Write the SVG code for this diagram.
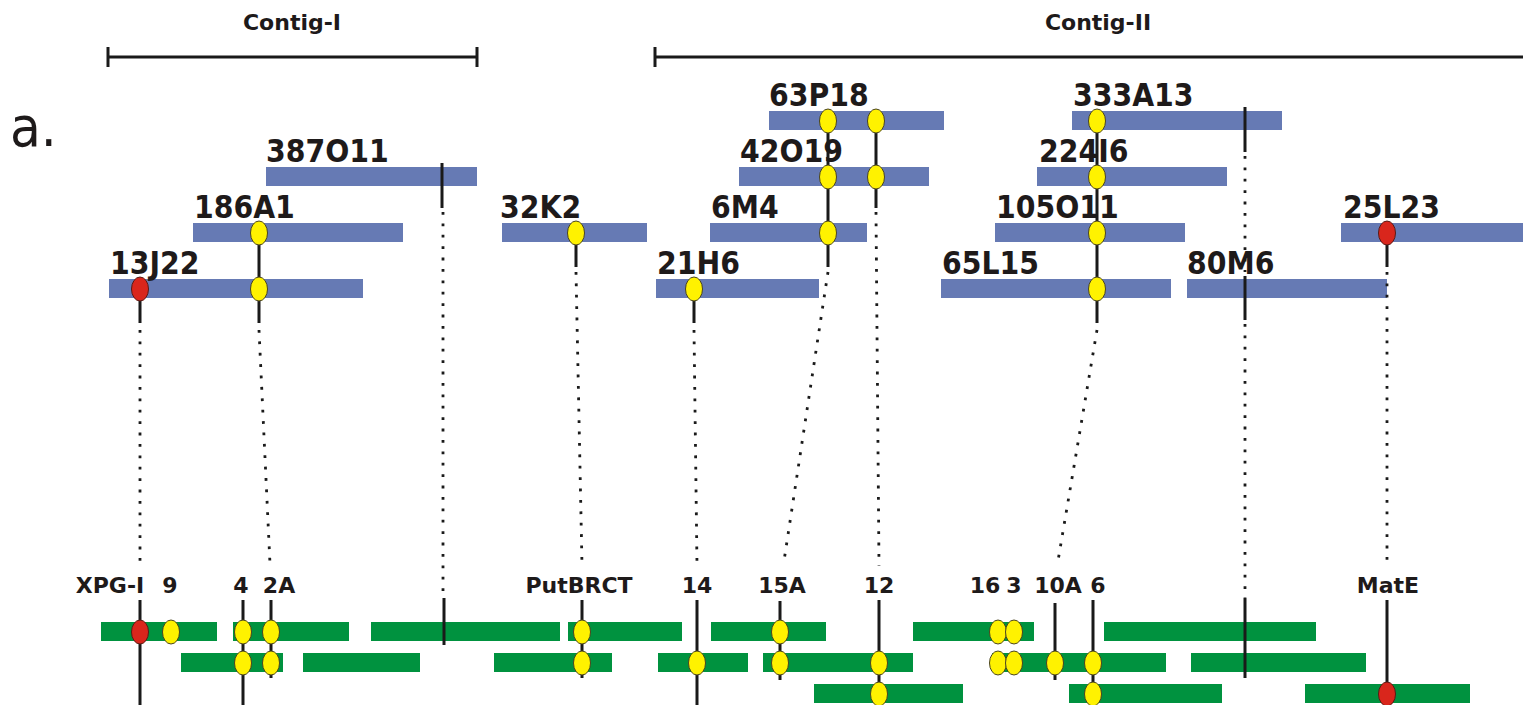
<svg xmlns="http://www.w3.org/2000/svg" width="1523" height="705" viewBox="0 0 1523 705">
<style>
.blue{fill:#667ab4}
.green{fill:#00923f}
.clone{font-family:"DejaVu Sans Condensed","DejaVu Sans",sans-serif;font-stretch:condensed;font-weight:bold;font-size:31.5px;fill:#1e1a1a}
.gene{font-family:"DejaVu Sans",sans-serif;font-weight:bold;font-size:22px;fill:#1e1a1a;text-anchor:middle}
.contig{font-family:"DejaVu Sans",sans-serif;font-weight:bold;font-size:22px;fill:#1e1a1a;text-anchor:middle}
.solid{stroke:#1a1a1a;stroke-width:3;fill:none}
.dot{stroke:#1a1a1a;stroke-width:2.8;stroke-dasharray:2.8 8.6;fill:none}
.y{fill:#fff200;stroke:#4a4420;stroke-width:1}
.r{fill:#d9261c;stroke:#5a1a14;stroke-width:1}
</style>
<rect width="1523" height="705" fill="#ffffff"/>

<g id="contig-I">
  <text class="contig" x="292" y="30">Contig-I</text>
  <path class="solid" d="M108,57H477M108,47V67M477,47V67"/>
</g>
<g id="contig-II">
  <text class="contig" x="1098" y="30">Contig-II</text>
  <path class="solid" d="M655,57H1523M655,47V67"/>
</g>
<g id="panel-label">
  <text x="10" y="146" font-family="DejaVu Sans Condensed, DejaVu Sans, sans-serif" font-stretch="condensed" font-size="56" fill="#1e1a1a">a.</text>
</g>

<g id="bac-clones">
  <g id="c63P18"><rect class="blue" x="769" y="111" width="175" height="19"/><text class="clone" x="769" y="106">63P18</text></g>
  <g id="c333A13"><rect class="blue" x="1072" y="111" width="210" height="19"/><text class="clone" x="1073" y="106">333A13</text></g>
  <g id="c387O11"><rect class="blue" x="266" y="167" width="211" height="19"/><text class="clone" x="266" y="162">387O11</text></g>
  <g id="c42O19"><rect class="blue" x="739" y="167" width="190" height="19"/><text class="clone" x="740" y="162">42O19</text></g>
  <g id="c224I6"><rect class="blue" x="1037" y="167" width="190" height="19"/><text class="clone" x="1039" y="162">224I6</text></g>
  <g id="c186A1"><rect class="blue" x="193" y="223" width="210" height="19"/><text class="clone" x="194" y="218">186A1</text></g>
  <g id="c32K2"><rect class="blue" x="502" y="223" width="145" height="19"/><text class="clone" x="500" y="218">32K2</text></g>
  <g id="c6M4"><rect class="blue" x="710" y="223" width="157" height="19"/><text class="clone" x="711" y="218">6M4</text></g>
  <g id="c105O11"><rect class="blue" x="995" y="223" width="190" height="19"/><text class="clone" x="996" y="218">105O11</text></g>
  <g id="c25L23"><rect class="blue" x="1341" y="223" width="182" height="19"/><text class="clone" x="1343" y="218">25L23</text></g>
  <g id="c13J22"><rect class="blue" x="109" y="279" width="254" height="19"/><text class="clone" x="110" y="274">13J22</text></g>
  <g id="c21H6"><rect class="blue" x="656" y="279" width="163" height="19"/><text class="clone" x="657" y="274">21H6</text></g>
  <g id="c65L15"><rect class="blue" x="941" y="279" width="230" height="19"/><text class="clone" x="942" y="274">65L15</text></g>
  <g id="c80M6"><rect class="blue" x="1187" y="279" width="200" height="19"/><text class="clone" x="1187" y="274">80M6</text></g>
</g>

<g id="contigs-green">
  <rect class="green" x="101" y="622" width="116" height="19"/>
  <rect class="green" x="233" y="622" width="116" height="19"/>
  <rect class="green" x="371" y="622" width="189" height="19"/>
  <rect class="green" x="568" y="622" width="114" height="19"/>
  <rect class="green" x="711" y="622" width="115" height="19"/>
  <rect class="green" x="913" y="622" width="121" height="19"/>
  <rect class="green" x="1104" y="622" width="212" height="19"/>
  <rect class="green" x="181" y="653" width="102" height="19"/>
  <rect class="green" x="303" y="653" width="117" height="19"/>
  <rect class="green" x="494" y="653" width="118" height="19"/>
  <rect class="green" x="658" y="653" width="90" height="19"/>
  <rect class="green" x="763" y="653" width="150" height="19"/>
  <rect class="green" x="992" y="653" width="174" height="19"/>
  <rect class="green" x="1191" y="653" width="175" height="19"/>
  <rect class="green" x="814" y="684" width="149" height="19"/>
  <rect class="green" x="1069" y="684" width="153" height="19"/>
  <rect class="green" x="1305" y="684" width="165" height="19"/>
</g>

<g id="gene-labels">
  <text class="gene" x="110" y="593">XPG-I</text>
  <text class="gene" x="170" y="593">9</text>
  <text class="gene" x="241" y="593">4</text>
  <text class="gene" x="279" y="593">2A</text>
  <text class="gene" x="579" y="593">PutBRCT</text>
  <text class="gene" x="697" y="593">14</text>
  <text class="gene" x="782" y="593">15A</text>
  <text class="gene" x="879" y="593">12</text>
  <text class="gene" x="985" y="593">16</text>
  <text class="gene" x="1014" y="593">3</text>
  <text class="gene" x="1058" y="593">10A</text>
  <text class="gene" x="1098" y="593">6</text>
  <text class="gene" x="1388" y="593">MatE</text>
</g>

<g id="connectors">
  <path class="solid" d="M140,289V323M259,233V323M442,163V208M576,233V267M694,289V323M828,121V267M876,121V208M1097,121V323M1245,107V152M1245,276V320M1387,233V267"/>
  <path class="solid" d="M140,600V705M243,600V705M271,600V678M444,598V645M582,600V678M697,600V705M780,601V680M879,600V705M1055,603V680M1093,600V705M1245,598V678M1387,600V705"/>
  <path class="dot" d="M140,330V566M259,330L270,564M443,212V598M576,272L582,565M694,330L697,565M828,272L784,561M876,212L879,566M1097,330L1058,561M1245,156V272M1245,324V598M1387,272V566"/>
</g>

<g id="probes">
  <ellipse class="y" cx="828" cy="121" rx="8.5" ry="12"/>
  <ellipse class="y" cx="876" cy="121" rx="8.5" ry="12"/>
  <ellipse class="y" cx="1097" cy="121" rx="8.5" ry="12"/>
  <ellipse class="y" cx="828" cy="177" rx="8.5" ry="12"/>
  <ellipse class="y" cx="876" cy="177" rx="8.5" ry="12"/>
  <ellipse class="y" cx="1097" cy="177" rx="8.5" ry="12"/>
  <ellipse class="y" cx="259" cy="233" rx="8.5" ry="12"/>
  <ellipse class="y" cx="576" cy="233" rx="8.5" ry="12"/>
  <ellipse class="y" cx="828" cy="233" rx="8.5" ry="12"/>
  <ellipse class="y" cx="1097" cy="233" rx="8.5" ry="12"/>
  <ellipse class="r" cx="1387" cy="233" rx="8.5" ry="12"/>
  <ellipse class="r" cx="140" cy="289" rx="8.5" ry="12"/>
  <ellipse class="y" cx="259" cy="289" rx="8.5" ry="12"/>
  <ellipse class="y" cx="694" cy="289" rx="8.5" ry="12"/>
  <ellipse class="y" cx="1097" cy="289" rx="8.5" ry="12"/>

  <ellipse class="r" cx="140" cy="632" rx="8.5" ry="12"/>
  <ellipse class="y" cx="171" cy="632" rx="8.5" ry="12"/>
  <ellipse class="y" cx="243" cy="632" rx="8.5" ry="12"/>
  <ellipse class="y" cx="271" cy="632" rx="8.5" ry="12"/>
  <ellipse class="y" cx="582" cy="632" rx="8.5" ry="12"/>
  <ellipse class="y" cx="780" cy="632" rx="8.5" ry="12"/>
  <ellipse class="y" cx="998" cy="632" rx="8.5" ry="12"/>
  <ellipse class="y" cx="1014" cy="632" rx="8.5" ry="12"/>
  <ellipse class="y" cx="243" cy="663" rx="8.5" ry="12"/>
  <ellipse class="y" cx="271" cy="663" rx="8.5" ry="12"/>
  <ellipse class="y" cx="582" cy="663" rx="8.5" ry="12"/>
  <ellipse class="y" cx="697" cy="663" rx="8.5" ry="12"/>
  <ellipse class="y" cx="780" cy="663" rx="8.5" ry="12"/>
  <ellipse class="y" cx="879" cy="663" rx="8.5" ry="12"/>
  <ellipse class="y" cx="998" cy="663" rx="8.5" ry="12"/>
  <ellipse class="y" cx="1014" cy="663" rx="8.5" ry="12"/>
  <ellipse class="y" cx="1055" cy="663" rx="8.5" ry="12"/>
  <ellipse class="y" cx="1093" cy="663" rx="8.5" ry="12"/>
  <ellipse class="y" cx="879" cy="694" rx="8.5" ry="12"/>
  <ellipse class="y" cx="1093" cy="694" rx="8.5" ry="12"/>
  <ellipse class="r" cx="1387" cy="694" rx="8.5" ry="12"/>
</g>
</svg>
